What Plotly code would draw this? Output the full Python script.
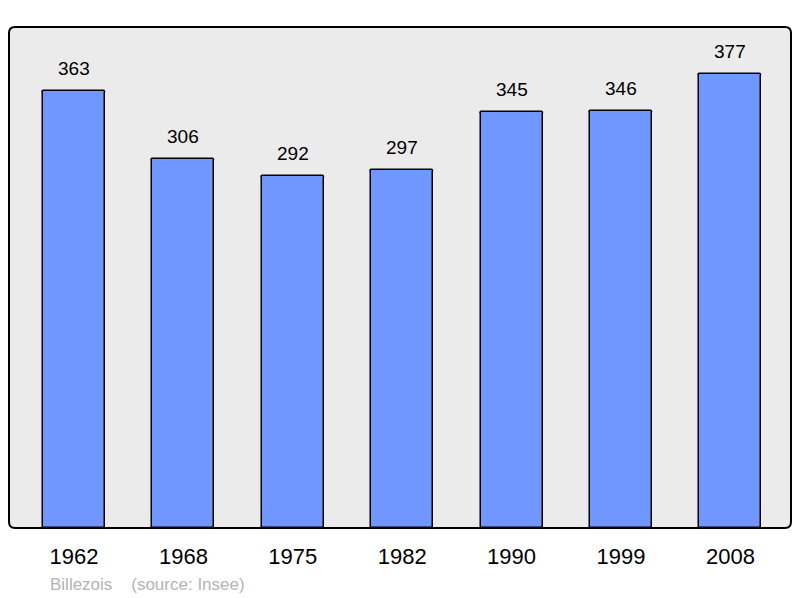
import plotly.graph_objects as go

years = ["1962", "1968", "1975", "1982", "1990", "1999", "2008"]
population = [363, 306, 292, 297, 345, 346, 377]
commune = "Billezois"
source = "(source: Insee)"

xs = list(range(len(years)))

fig = go.Figure()
fig.add_trace(go.Bar(
    x=xs, y=population, width=0.567,
    marker=dict(color="#7097ff", line=dict(color="#000000", width=1.5), cornerradius=2),
    hoverinfo="skip",
))

for xi, v in zip(xs, population):
    fig.add_annotation(x=xi, y=v, text=str(v), showarrow=False, yanchor="bottom",
                       yshift=10, font=dict(family="Liberation Sans, Arial", size=19, color="#000"))

# rounded plot-area frame
r_x = 6 / 782
r_y = 6 / 501
path = (f"M {r_x},0 L {1-r_x},0 Q 1,0 1,{r_y} L 1,{1-r_y} Q 1,1 {1-r_x},1 "
        f"L {r_x},1 Q 0,1 0,{1-r_y} L 0,{r_y} Q 0,0 {r_x},0 Z")
fig.add_shape(type="path", xref="paper", yref="paper", path=path,
              fillcolor="#ebebeb", line=dict(color="#000000", width=2), layer="below")

fig.add_annotation(xref="paper", yref="paper", x=(48 - 9) / 782, y=-(584 - 528) / 501,
                   xanchor="left", yanchor="middle", showarrow=False,
                   text=f"{commune}&nbsp;&nbsp;&nbsp;&nbsp;{source}",
                   font=dict(family="Liberation Sans, Arial", size=17, color="#b4b4b4"))

fig.update_layout(
    width=800, height=598,
    margin=dict(l=9, r=9, t=27, b=70),
    paper_bgcolor="#ffffff", plot_bgcolor="rgba(0,0,0,0)",
    showlegend=False, bargap=0,
    xaxis=dict(tickmode="array", tickvals=xs, ticktext=years, range=[-0.594, 6.554],
               showgrid=False, zeroline=False, showline=False, ticks="", ticklen=0,
               ticklabelstandoff=13,
               tickfont=dict(family="Liberation Sans, Arial", size=22, color="#000")),
    yaxis=dict(range=[0, 415.8], visible=False, showgrid=False, zeroline=False),
)
fig.write_html("out.html", config={"displayModeBar": False},
               post_script="document.body.style.margin='0';document.body.style.overflow='hidden';")
